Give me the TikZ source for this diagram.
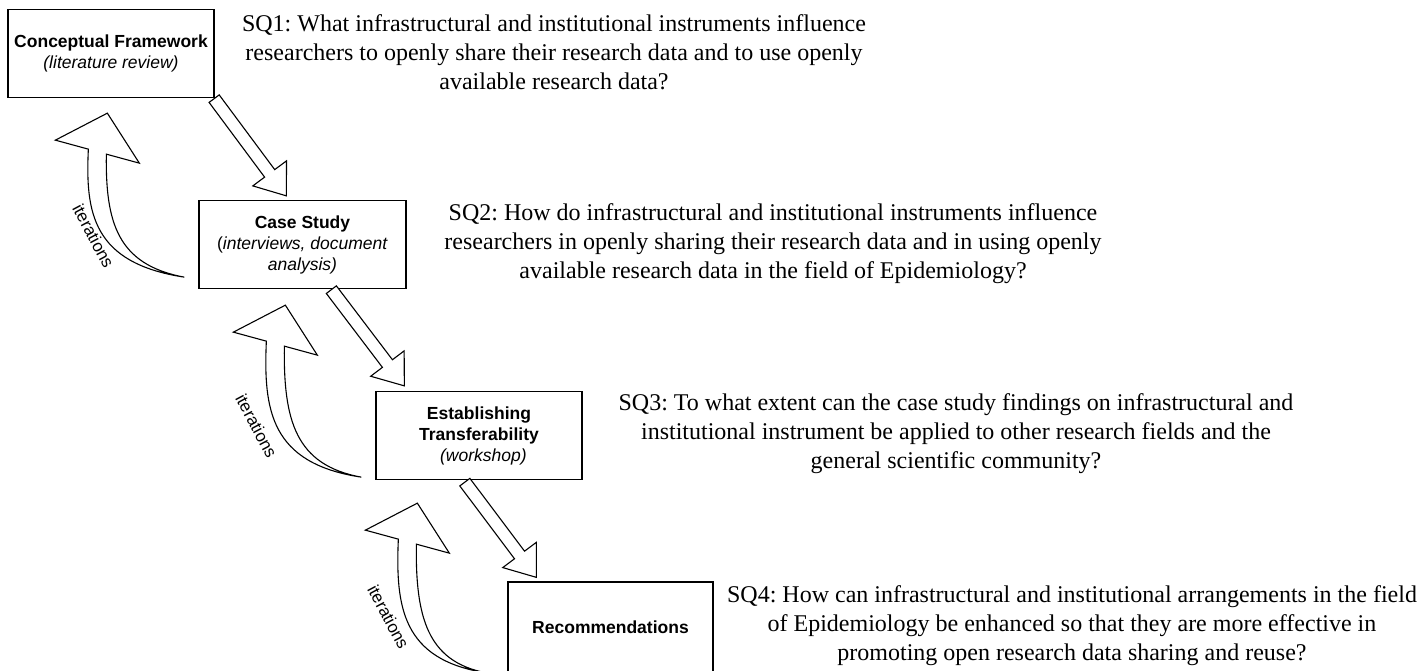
\documentclass[tikz,border=0pt]{standalone}
\usepackage{fontspec}
\setmainfont{Liberation Serif}
\setsansfont{Liberation Sans}
\usetikzlibrary{calc}
\frenchspacing

% straight hollow arrow from coordinate #1 (tail) to coordinate #2 (tip)
\newcommand\blockarrow[2]{%
  \coordinate (ba-c) at ($(#2)!28pt!(#1)$);
  \draw[fatarrow] ($(#1)!6.3pt!90:(#2)$) -- ($(ba-c)!6.3pt!90:(#2)$)
    -- ($(ba-c)!21pt!90:(#2)$) -- (#2) -- ($(ba-c)!21pt!-90:(#2)$)
    -- ($(ba-c)!6.3pt!-90:(#2)$) -- ($(#1)!6.3pt!-90:(#2)$) -- cycle;}

% curved tapering feedback arrow: tip #1, tail #2, depth of tail below tip #3
\newcommand\iterarrow[3]{%
  \pgfmathsetmacro\swOa{0.61*#3}%
  \pgfmathsetmacro\swOb{0.92*#3}%
  \pgfmathsetmacro\swIa{0.67*#3}%
  \pgfmathsetmacro\swIb{0.93*#3}%
  \begin{scope}[shift={(#1)}]
    \draw[swoosh] (-19,36) -- (-52,27) -- (0,0) -- (32,50) -- (-1,41)
      .. controls (-2,\swIa) and (10,\swIb) .. (#2)
      .. controls (-15,\swOb) and (-22,\swOa) .. (-19,36) -- cycle;
  \end{scope}}

\begin{document}
\begin{tikzpicture}[x=1pt,y=-1pt,
  box/.style={draw=black,line width=1.3pt,fill=white,minimum width=206pt,
    minimum height=88pt,inner sep=0pt,align=center,
    font=\sffamily\fontsize{17.5}{21}\selectfont},
  sq/.style={align=center,inner sep=0pt,font=\fontsize{24}{29}\selectfont},
  iterlabel/.style={font=\sffamily\fontsize{17}{19}\selectfont,rotate=-62,inner sep=0pt},
  fatarrow/.style={draw=black,line width=1.1pt,fill=white,line join=miter},
  swoosh/.style={draw=black,line width=1.1pt,fill=white,line join=miter,miter limit=6}]

\useasboundingbox (0,0) rectangle (1426,670);

% research phases
\node[box] (cf) at (111,53.5) {\textbf{Conceptual Framework}\\\textit{(literature review)}};
\node[box,minimum width=207pt] (cs) at (302.5,244.5) {\textbf{Case Study}\\(\textit{interviews, document}\\\textit{analysis)}};
\node[box] (ts) at (479,435.5) {\textbf{Establishing}\\\textbf{Transferability}\\\hspace*{0.5em}\textit{(workshop)}};
\node[box,minimum width=205pt,minimum height=90pt] (rc) at (610.5,627) {\textbf{Recommendations}};

% sub-questions
\node[sq] (q1) at (554,52) {SQ1: What infrastructural and institutional instruments influence\\researchers to openly share their research data and to use openly\\available research data?};
\node[sq] (q2) at (773,244) {SQ2: How do infrastructural and institutional instruments influence\\researchers in openly sharing their research data and in using openly\\available research data in the field of Epidemiology?};
\node[sq] (q3) at (956,434) {SQ3: To what extent can the case study findings on infrastructural and\\institutional instrument be applied to other research fields and the\\general scientific community?};
\node[sq] (q4) at (1072,626) {SQ4: How can infrastructural and institutional arrangements in the field\\of Epidemiology be enhanced so that they are more effective in\\promoting open research data sharing and reuse?};

% forward arrows
\coordinate (f1s) at ($(cf.south east)+(-0.5,0.5)$);
\coordinate (f1e) at ($(cs.north west)+(88,-4)$);
\coordinate (f2s) at ($(cs.south west)+(133,0.5)$);
\coordinate (f2e) at ($(ts.north west)+(29,-5)$);
\coordinate (f3s) at ($(ts.south west)+(89.5,2)$);
\coordinate (f3e) at ($(rc.north west)+(29,-4)$);
\blockarrow{f1s}{f1e}
\blockarrow{f2s}{f2e}
\blockarrow{f3s}{f3e}

% feedback arrows
\coordinate (i1e) at ($(cf.south west)+(100,15)$);
\coordinate (i1s) at ($(cs.south west)+(-14,-12)$);
\coordinate (i2e) at ($(cs.south west)+(87,16)$);
\coordinate (i2s) at ($(ts.south west)+(-14,-3)$);
\coordinate (i3e) at ($(ts.south west)+(42,23)$);
\coordinate (i3s) at ($(rc.south west)+(-22,0)$);
\iterarrow{i1e}{i1s}{163}
\iterarrow{i2e}{i2s}{172}
\iterarrow{i3e}{i3s}{170}

\node[iterlabel] (la) at (93.5,236) {iterations};
\node[iterlabel] (lb) at (256.5,426) {iterations};
\node[iterlabel] (lc) at (388.5,617) {iterations};
\end{tikzpicture}
\end{document}
